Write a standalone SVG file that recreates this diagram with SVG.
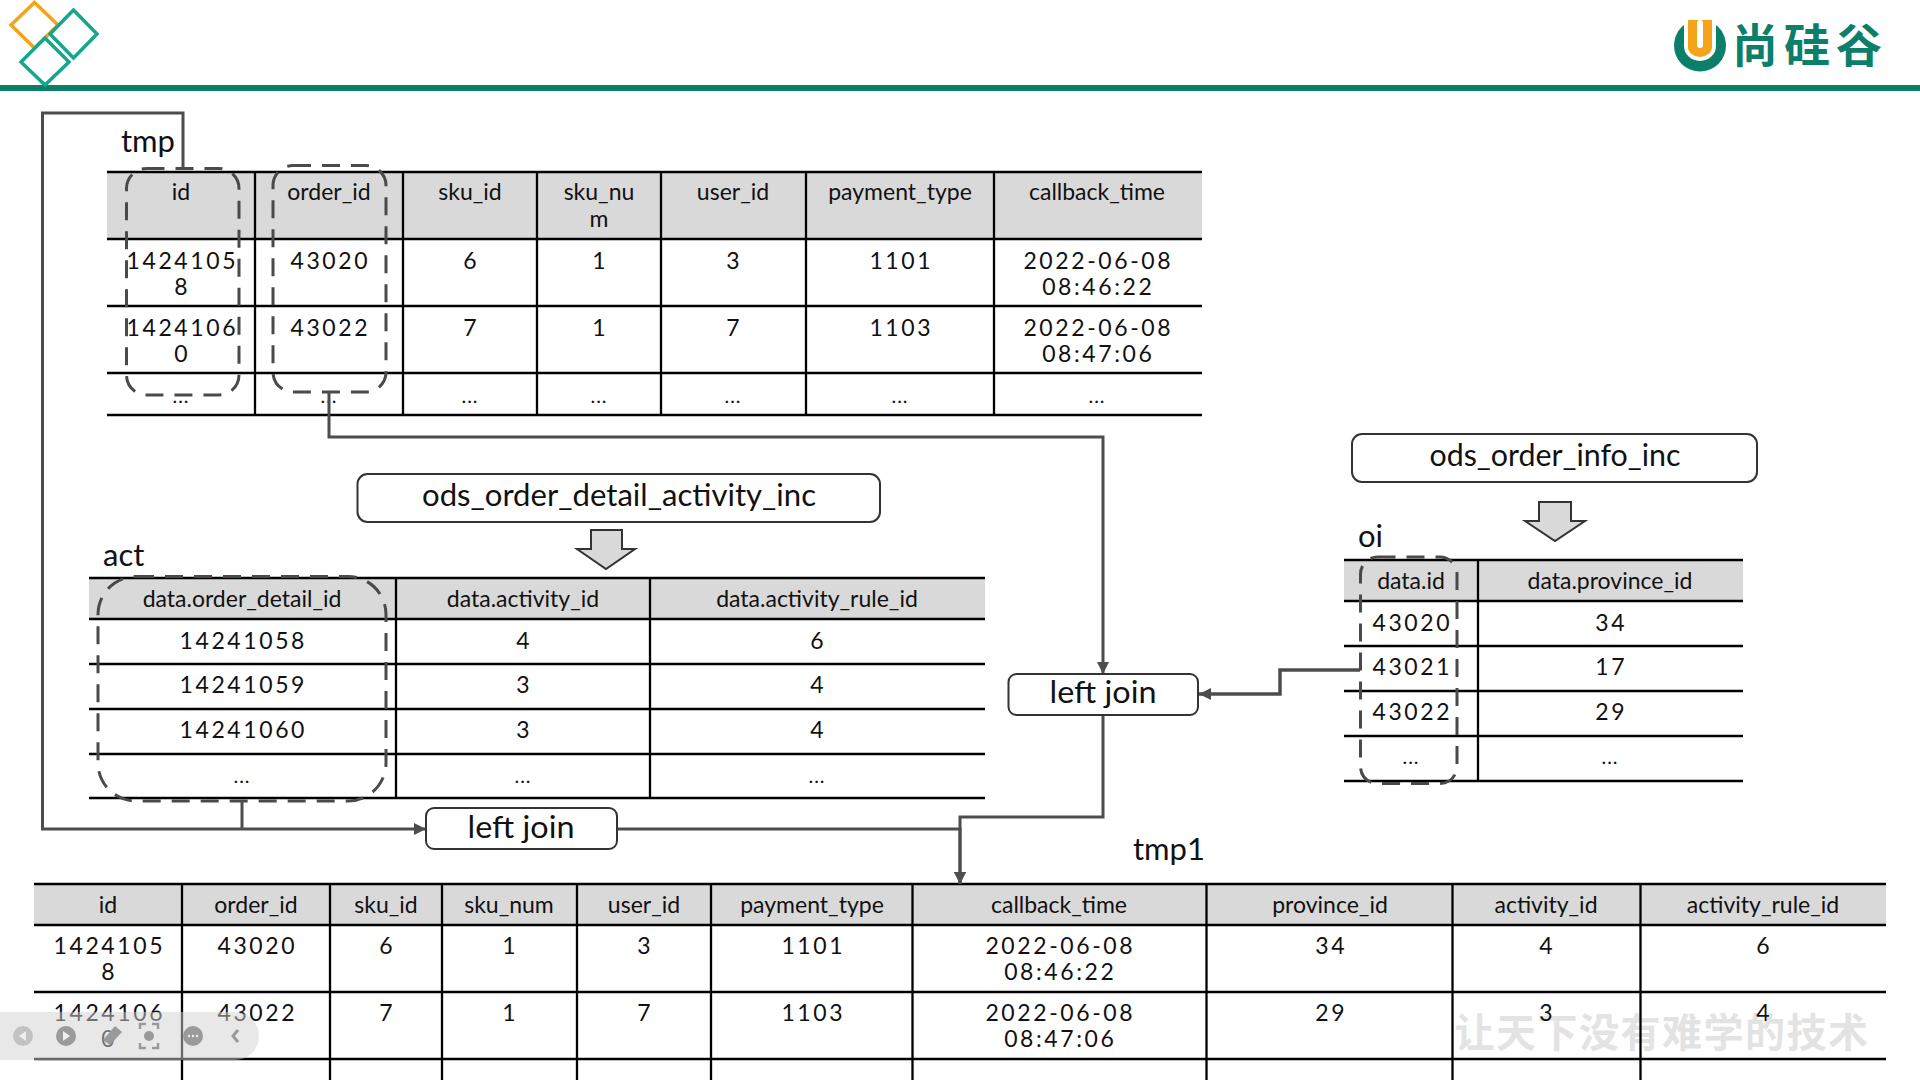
<svg xmlns="http://www.w3.org/2000/svg" width="1920" height="1080" viewBox="0 0 1920 1080">
<style>
text{font-family:"Lato","Noto Sans",sans-serif;fill:#111;text-anchor:middle}
.c{font-size:23px}
.n{font-size:23px;letter-spacing:2.6px;transform:translate(1.3px,1px)}
.d{font-size:20px;letter-spacing:1px}
.b{font-size:31px;transform:translate(0,1px)}
.l{font-size:31px;text-anchor:start}
.hd{fill:#d9d9d9}
.g{stroke:#000;stroke-width:2.3;fill:none}
.dash{fill:none;stroke:#4a4a4a;stroke-width:3;stroke-dasharray:18 11}
.box{fill:#fff;stroke:#333;stroke-width:2}
.blk{fill:#d9d9d9;stroke:#333;stroke-width:2}
.con{fill:none;stroke:#4d4d4d;stroke-width:3}
.ic{fill:#9a9a9a}
</style>
<defs>
<marker id="ah" markerUnits="userSpaceOnUse" markerWidth="14" markerHeight="14" refX="12" refY="6" orient="auto"><path d="M0 0L12 6L0 12z" fill="#4d4d4d"/></marker>
</defs>
<rect width="1920" height="1080" fill="#fff"/>

<g id="header">
<rect x="0" y="85" width="1920" height="6" fill="#0b7f6a"/>
<path d="M34.500 2.500L58 25L34.500 48L11 25z" fill="none" stroke="#f5a31a" stroke-width="3.500"/>
<path d="M73.500 10L97 34L73.500 58L50 34z" fill="#fff" stroke="#15a68e" stroke-width="3.500"/>
<path d="M45 38L69 62L45 85L21 62z" fill="#fff" stroke="#15a68e" stroke-width="3.500"/>
<circle cx="1700" cy="45.500" r="26" fill="#0b7f6a"/>
<path d="M1684 15h32v31a16 15 0 0 1-32 0z" fill="#fff"/>
<path d="M1688 20h24v27a12 10 0 0 1-24 0z" fill="#f5a31a"/>
<rect x="1697" y="20" width="6" height="28" rx="3" fill="#fff"/>
<text x="1810" y="62" style="font-family:'Noto Sans CJK SC',sans-serif;font-size:46px;font-weight:700;letter-spacing:6px;fill:#0b7f6a">尚硅谷</text>
</g>

<g id="watermark">
<text x="1662" y="1047" style="font-family:'Noto Sans CJK SC',sans-serif;font-size:40px;font-weight:700;letter-spacing:1.500px;fill:#e3e3e3">让天下没有难学的技术</text>
</g>

<g id="table-tmp">
<rect class="hd" x="107" y="172" width="1095" height="67"/>
<path class="g" d="M107 172H1202M107 239H1202M107 306H1202M107 373H1202M107 415H1202M255 172V415M403 172V415M537 172V415M661 172V415M806 172V415M994 172V415"/>
<text class="l" x="121" y="152">tmp</text>
<text class="c" x="181" y="200">id</text><text class="c" x="329" y="200">order_id</text><text class="c" x="470" y="200">sku_id</text><text class="c" x="599" y="200">sku_nu</text><text class="c" x="599" y="227">m</text><text class="c" x="733" y="200">user_id</text><text class="c" x="900" y="200">payment_type</text><text class="c" x="1097" y="200">callback_time</text>
<text class="n" x="181" y="268">1424105</text><text class="n" x="181" y="294">8</text><text class="n" x="329" y="268">43020</text><text class="n" x="470" y="268">6</text><text class="n" x="599" y="268">1</text><text class="n" x="733" y="268">3</text><text class="n" x="900" y="268">1101</text><text class="n" x="1097" y="268">2022-06-08</text><text class="n" x="1097" y="294">08:46:22</text>
<text class="n" x="181" y="335">1424106</text><text class="n" x="181" y="361">0</text><text class="n" x="329" y="335">43022</text><text class="n" x="470" y="335">7</text><text class="n" x="599" y="335">1</text><text class="n" x="733" y="335">7</text><text class="n" x="900" y="335">1103</text><text class="n" x="1097" y="335">2022-06-08</text><text class="n" x="1097" y="361">08:47:06</text>
<text class="d" x="181" y="403">...</text><text class="d" x="329" y="403">...</text><text class="d" x="470" y="403">...</text><text class="d" x="599" y="403">...</text><text class="d" x="733" y="403">...</text><text class="d" x="900" y="403">...</text><text class="d" x="1097" y="403">...</text>
<rect class="dash" x="126.500" y="168.500" width="112.500" height="226.500" rx="20"/>
<rect class="dash" x="273" y="165.500" width="113" height="226.500" rx="20"/>
</g>

<g id="table-act">
<rect class="hd" x="89" y="578" width="896" height="41"/>
<path class="g" d="M89 578H985M89 619H985M89 664H985M89 709H985M89 754H985M89 798H985M396 578V798M650 578V798"/>
<text class="l" x="103" y="566">act</text>
<text class="c" x="242" y="607">data.order_detail_id</text><text class="c" x="523" y="607">data.activity_id</text><text class="c" x="817" y="607">data.activity_rule_id</text>
<text class="n" x="242" y="648">14241058</text><text class="n" x="523" y="648">4</text><text class="n" x="817" y="648">6</text>
<text class="n" x="242" y="692">14241059</text><text class="n" x="523" y="692">3</text><text class="n" x="817" y="692">4</text>
<text class="n" x="242" y="737">14241060</text><text class="n" x="523" y="737">3</text><text class="n" x="817" y="737">4</text>
<text class="d" x="242" y="783">...</text><text class="d" x="523" y="783">...</text><text class="d" x="817" y="783">...</text>
<rect class="dash" x="98" y="576.500" width="288" height="224.500" rx="38"/>
</g>

<g id="table-oi">
<rect class="hd" x="1344" y="560" width="399" height="41"/>
<path class="g" d="M1344 560H1743M1344 601H1743M1344 646H1743M1344 691H1743M1344 736H1743M1344 781H1743M1478 560V781"/>
<text class="l" x="1358" y="547">oi</text>
<text class="c" x="1411" y="589">data.id</text><text class="c" x="1610" y="589">data.province_id</text>
<text class="n" x="1411" y="630">43020</text><text class="n" x="1610" y="630">34</text>
<text class="n" x="1411" y="674">43021</text><text class="n" x="1610" y="674">17</text>
<text class="n" x="1411" y="719">43022</text><text class="n" x="1610" y="719">29</text>
<text class="d" x="1411" y="764">...</text><text class="d" x="1610" y="764">...</text>
<rect class="dash" x="1360.500" y="557" width="96.500" height="226.500" rx="17"/>
</g>

<g id="table-tmp1">
<rect class="hd" x="34" y="884" width="1852" height="41"/>
<path class="g" d="M34 884H1886M34 925H1886M34 992H1886M34 1059H1886M182 884V1080M330 884V1080M442 884V1080M577 884V1080M711 884V1080M912.500 884V1080M1206.500 884V1080M1452.500 884V1080M1640.500 884V1080"/>
<text class="l" x="1133" y="860">tmp1</text>
<text class="c" x="108" y="913">id</text><text class="c" x="256" y="913">order_id</text><text class="c" x="386" y="913">sku_id</text><text class="c" x="509" y="913">sku_num</text><text class="c" x="644" y="913">user_id</text><text class="c" x="812" y="913">payment_type</text><text class="c" x="1059" y="913">callback_time</text><text class="c" x="1330" y="913">province_id</text><text class="c" x="1546" y="913">activity_id</text><text class="c" x="1763" y="913">activity_rule_id</text>
<text class="n" x="108" y="953">1424105</text><text class="n" x="108" y="979">8</text><text class="n" x="256" y="953">43020</text><text class="n" x="386" y="953">6</text><text class="n" x="509" y="953">1</text><text class="n" x="644" y="953">3</text><text class="n" x="812" y="953">1101</text><text class="n" x="1059" y="953">2022-06-08</text><text class="n" x="1059" y="979">08:46:22</text><text class="n" x="1330" y="953">34</text><text class="n" x="1546" y="953">4</text><text class="n" x="1763" y="953">6</text>
<text class="n" x="108" y="1020">1424106</text><text class="n" x="108" y="1046">0</text><text class="n" x="256" y="1020">43022</text><text class="n" x="386" y="1020">7</text><text class="n" x="509" y="1020">1</text><text class="n" x="644" y="1020">7</text><text class="n" x="812" y="1020">1103</text><text class="n" x="1059" y="1020">2022-06-08</text><text class="n" x="1059" y="1046">08:47:06</text><text class="n" x="1330" y="1020">29</text><text class="n" x="1546" y="1020">3</text><text class="n" x="1763" y="1020">4</text>
</g>

<g id="connectors">
<path class="con" d="M329 392V437H1103V674" marker-end="url(#ah)"/>
<path class="con" d="M1103 715V817H960V884" marker-end="url(#ah)"/>
<path class="con" d="M183 168V113H42.500V829H426" marker-end="url(#ah)"/>
<path class="con" d="M242 801V829"/>
<path class="con" d="M617 829H960V884" marker-end="url(#ah)"/>
<path class="con" style="stroke-width:3.500" d="M1360 670H1280V694H1199" marker-end="url(#ah)"/>
</g>

<g id="node-ods-detail">
<rect class="box" x="357.500" y="474" width="522.500" height="48" rx="10"/>
<text class="b" x="619" y="505" textLength="394" lengthAdjust="spacingAndGlyphs">ods_order_detail_activity_inc</text>
<path class="blk" d="M591 530H622V549H635L606 569L577 549H591z"/>
</g>
<g id="node-ods-info">
<rect class="box" x="1352" y="434" width="405" height="48" rx="10"/>
<text class="b" x="1555" y="465" textLength="251" lengthAdjust="spacingAndGlyphs">ods_order_info_inc</text>
<path class="blk" d="M1539 502H1571V521H1585L1555 541L1525 521H1539z"/>
</g>
<g id="node-join-1">
<rect class="box" x="1008.500" y="674" width="189.500" height="41" rx="8"/>
<text class="b" x="1103" y="702" textLength="107" lengthAdjust="spacingAndGlyphs">left join</text>
</g>
<g id="node-join-2">
<rect class="box" x="426" y="808" width="191" height="41" rx="8"/>
<text class="b" x="521" y="837" textLength="107" lengthAdjust="spacingAndGlyphs">left join</text>
</g>

<g id="toolbar">
<path d="M0 1012H235a24 24 0 0 1 0 48H0z" fill="#d2d2d2" fill-opacity=".5"/>
<circle cx="23" cy="1036" r="10" fill="#c2c2c2"/><path d="M26 1031l-7 5 7 5z" fill="#eee"/>
<circle cx="66" cy="1036" r="10" class="ic"/><path d="M63 1031l7 5-7 5z" fill="#eee"/>
<path d="M103 1040l12-14 7 6-12 13z" class="ic"/>
<path d="M140 1029v-5h6M152 1024h6v5M158 1043v5h-6M146 1048h-6v-5" fill="none" stroke="#9a9a9a" stroke-width="2.500"/><circle cx="149" cy="1036" r="5" class="ic"/>
<circle cx="193" cy="1036" r="10" class="ic"/><circle cx="189" cy="1036" r="1.200" fill="#eee"/><circle cx="193" cy="1036" r="1.200" fill="#eee"/><circle cx="197" cy="1036" r="1.200" fill="#eee"/>
<path d="M238 1030l-5 6 5 6" fill="none" stroke="#9a9a9a" stroke-width="3"/>
</g>
</svg>
